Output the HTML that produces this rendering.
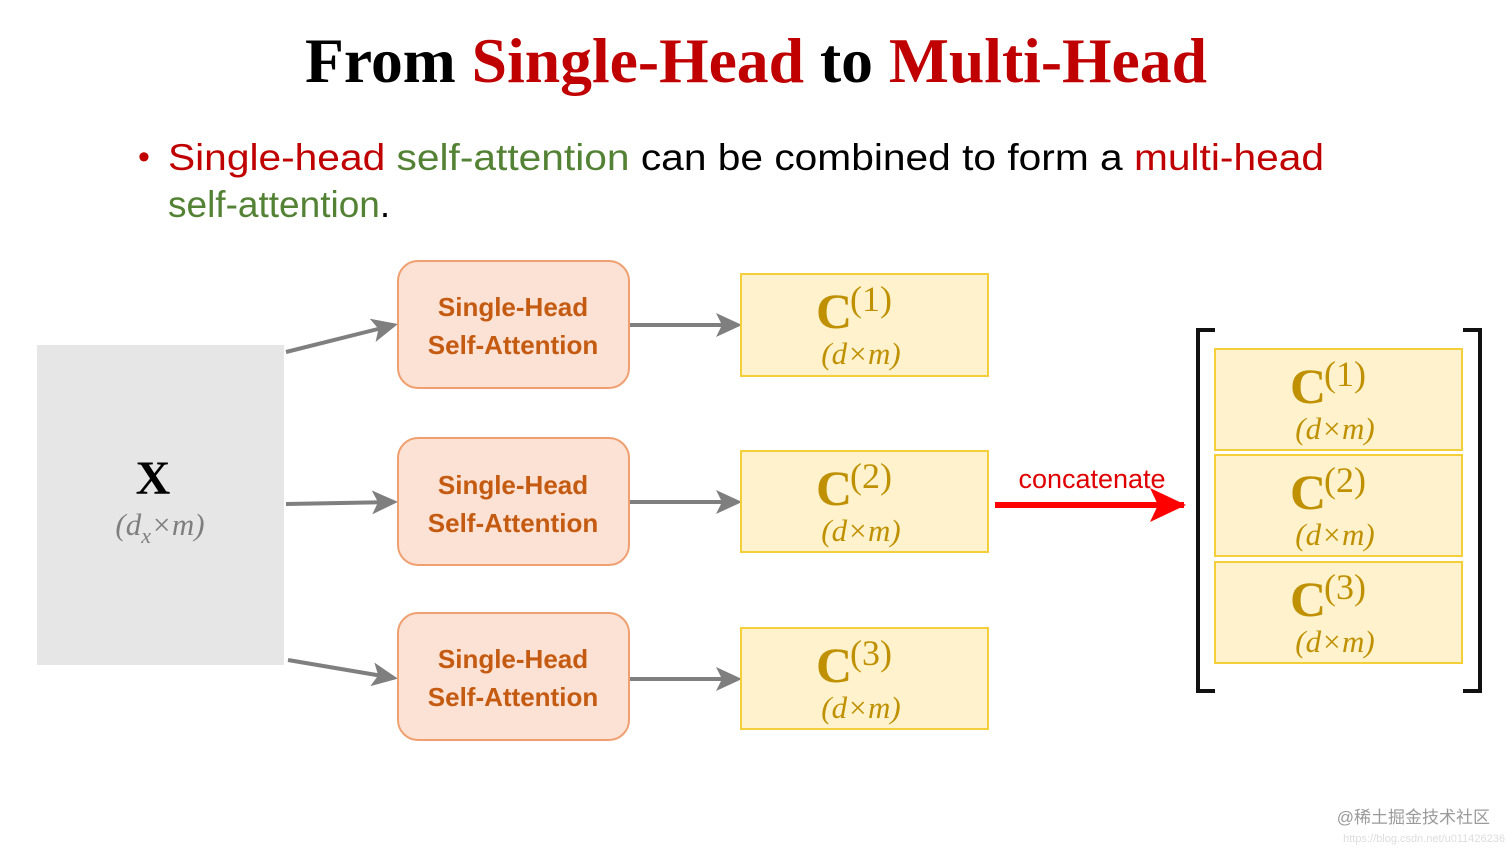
<!DOCTYPE html>
<html><head><meta charset="utf-8"><style>
html,body{margin:0;padding:0;background:#fff;}
svg{display:block}
.sh{font-family:"Liberation Sans",sans-serif;font-weight:bold;font-size:26px;fill:#c55a11;text-anchor:middle}
.cb{font-family:"Liberation Serif",serif;font-weight:bold;font-size:50px;fill:#bf9000}
.cs{font-family:"Liberation Serif",serif;font-size:36px;fill:#bf9000}
.dm{font-family:"Liberation Serif",serif;font-style:italic;font-size:31px;fill:#bf9000;text-anchor:middle}
</style></head><body>
<svg width="1512" height="851" xmlns="http://www.w3.org/2000/svg">
<defs>
<marker id="ga2" markerWidth="26" markerHeight="24" refX="22" refY="12" orient="auto" markerUnits="userSpaceOnUse"><path d="M0,0 L26,12 L0,24 L6,12 Z" fill="#7f7f7f"/></marker>
<marker id="ra" markerWidth="36" markerHeight="34" refX="34" refY="17" orient="auto" markerUnits="userSpaceOnUse"><path d="M0,0 L36,17 L0,34 L8,17 Z" fill="#ff0000"/></marker>
</defs>
<text x="756" y="82" text-anchor="middle" font-family="Liberation Serif,serif" font-weight="bold" font-size="63" textLength="902" lengthAdjust="spacingAndGlyphs"><tspan fill="#000">From </tspan><tspan fill="#c00000">Single-Head</tspan><tspan fill="#000"> to </tspan><tspan fill="#c00000">Multi-Head</tspan></text>
<text x="138" y="168" font-family="Liberation Sans,sans-serif" font-size="34" fill="#c00000">•</text>
<text x="168" y="170" font-family="Liberation Sans,sans-serif" font-size="37" textLength="1156" lengthAdjust="spacingAndGlyphs"><tspan fill="#c00000">Single-head </tspan><tspan fill="#548235">self-attention</tspan><tspan fill="#000"> can be combined to form a </tspan><tspan fill="#c00000">multi-head</tspan></text>
<text x="168" y="217" font-family="Liberation Sans,sans-serif" font-size="37"><tspan fill="#548235">self-attention</tspan><tspan fill="#000">.</tspan></text>

<rect x="37" y="345" width="247" height="320" fill="#e7e6e6"/>
<text x="153" y="494" text-anchor="middle" font-family="Liberation Serif,serif" font-weight="bold" font-size="48">X</text>
<text x="160" y="535" text-anchor="middle" font-family="Liberation Serif,serif" font-style="italic" font-size="31" fill="#7f7f7f">(d<tspan font-size="22" dy="8">x</tspan><tspan dy="-8">×m)</tspan></text>

<g stroke="#7f7f7f" stroke-width="4" fill="none">
<line x1="286" y1="352" x2="394" y2="325" marker-end="url(#ga2)"/>
<line x1="286" y1="504" x2="394" y2="502" marker-end="url(#ga2)"/>
<line x1="288" y1="660" x2="394" y2="678" marker-end="url(#ga2)"/>
<line x1="630" y1="325" x2="738" y2="325" marker-end="url(#ga2)"/>
<line x1="630" y1="502" x2="738" y2="502" marker-end="url(#ga2)"/>
<line x1="630" y1="679" x2="738" y2="679" marker-end="url(#ga2)"/>
</g>

<g fill="#fbe2d5" stroke="#f0a070" stroke-width="2">
<rect x="398" y="261" width="231" height="127" rx="20"/>
<rect x="398" y="438" width="231" height="127" rx="20"/>
<rect x="398" y="613" width="231" height="127" rx="20"/>
</g>
<text class="sh" x="513" y="316">Single-Head</text><text class="sh" x="513" y="354">Self-Attention</text>
<text class="sh" x="513" y="494">Single-Head</text><text class="sh" x="513" y="532">Self-Attention</text>
<text class="sh" x="513" y="668">Single-Head</text><text class="sh" x="513" y="706">Self-Attention</text>

<g fill="#fff2cc" stroke="#f5cf3a" stroke-width="2">
<rect x="741" y="274" width="247" height="102"/>
<rect x="741" y="451" width="247" height="101"/>
<rect x="741" y="628" width="247" height="101"/>
<rect x="1215" y="349" width="247" height="101"/>
<rect x="1215" y="455" width="247" height="101"/>
<rect x="1215" y="562" width="247" height="101"/>
</g>
<g>
<text class="cb" x="816" y="328">C</text><text class="cs" x="850" y="311">(1)</text><text class="dm" x="861" y="364">(d×m)</text>
<text class="cb" x="816" y="505">C</text><text class="cs" x="850" y="488">(2)</text><text class="dm" x="861" y="541">(d×m)</text>
<text class="cb" x="816" y="682">C</text><text class="cs" x="850" y="665">(3)</text><text class="dm" x="861" y="718">(d×m)</text>
<text class="cb" x="1290" y="403">C</text><text class="cs" x="1324" y="386">(1)</text><text class="dm" x="1335" y="439">(d×m)</text>
<text class="cb" x="1290" y="509">C</text><text class="cs" x="1324" y="492">(2)</text><text class="dm" x="1335" y="545">(d×m)</text>
<text class="cb" x="1290" y="616">C</text><text class="cs" x="1324" y="599">(3)</text><text class="dm" x="1335" y="652">(d×m)</text>
</g>

<line x1="995" y1="505" x2="1184" y2="505" stroke="#ff0000" stroke-width="6" marker-end="url(#ra)"/>
<text x="1092" y="488" text-anchor="middle" font-family="Liberation Sans,sans-serif" font-size="27" fill="#e00000">concatenate</text>

<g stroke="#111" stroke-width="4" fill="none">
<path d="M1215,330 H1198 V691 H1215"/>
<path d="M1463,330 H1480 V691 H1463"/>
</g>
<text x="1490" y="823" text-anchor="end" font-family="Liberation Sans,'Noto Sans CJK SC',sans-serif" font-size="17" fill="#9a9a9a">@稀土掘金技术社区</text>
<text x="1505" y="842" text-anchor="end" font-family="Liberation Sans,sans-serif" font-size="11" fill="#dddddd">https://blog.csdn.net/u011426236</text>
</svg>
</body></html>
